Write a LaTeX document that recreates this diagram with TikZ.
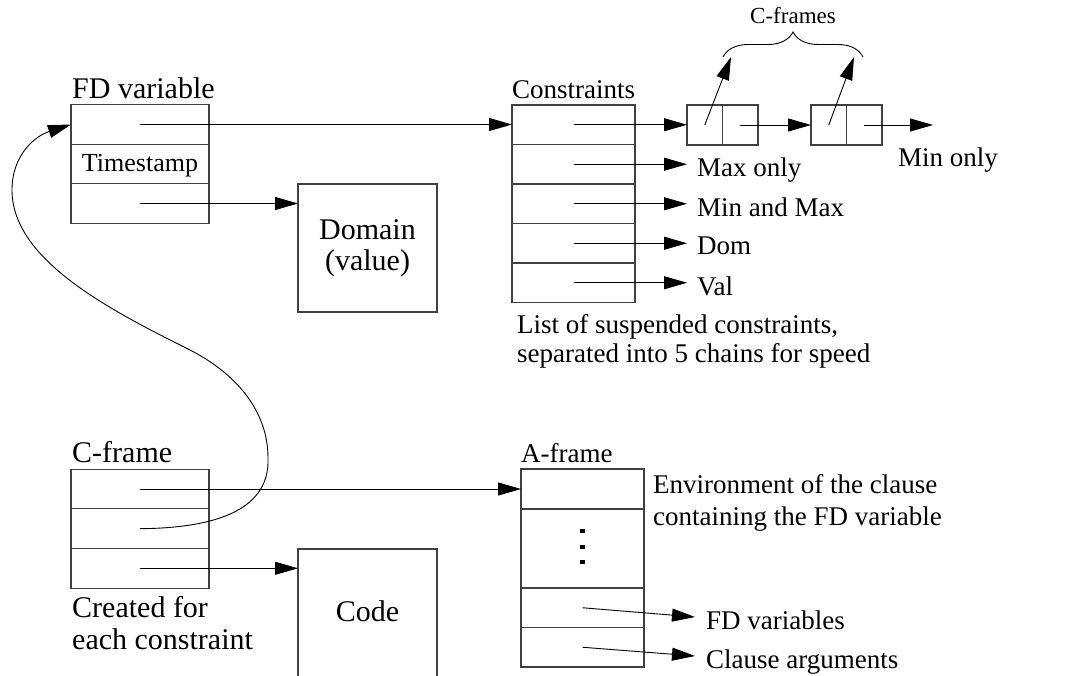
\documentclass[tikz,border=0pt]{standalone}
\usepackage{fontspec}
\setmainfont{Liberation Serif}
\usetikzlibrary{arrows.meta,decorations.pathreplacing}
\newcommand\fbig{\fontsize{30}{32}\selectfont}
\newcommand\fmid{\fontsize{27}{30}\selectfont}
\begin{document}
\begin{tikzpicture}[x=1pt,y=-1pt,
  cell/.style={draw=black!75,line width=1.1pt,inner sep=0pt,outer sep=0pt},
  arr/.style={-{Triangle[length=23pt,width=13pt]},line width=0.9pt},
  big/.style={font=\fbig,inner sep=0pt,anchor=base west},
  mid/.style={font=\fmid,inner sep=0pt,anchor=base west},
  tip/.style={font=\fmid,inner xsep=10pt,inner ysep=0pt,anchor=base west}]
\useasboundingbox (0,0) rectangle (1068,676);
\clip (0,0) rectangle (1068,676);

% FD variable
\node[big] (fdlab) at (72,99) {FD variable};
\node[cell,minimum width=138pt,minimum height=39.5pt] (fd1) at (140,124.5) {};
\node[cell,minimum width=138pt,minimum height=39.5pt,font=\fontsize{26}{28}\selectfont] (fd2) at (140,164) {};
\node[cell,minimum width=138pt,minimum height=39.5pt] (fd3) at (140,203.5) {};
\node[font=\fontsize{26}{28}\selectfont,inner sep=0pt,anchor=base] (ts) at (140,172) {Timestamp};

% Domain
\node[cell,minimum width=139pt,minimum height=128pt,font=\fbig,align=center] (dom) at (367.5,248) {Domain\\[-1pt](value)};

% Constraints
\node[mid] (conlab) at (512,99) {Constraints};
\node[cell,minimum width=123pt,minimum height=39.5pt] (k1) at (573.5,124.75) {};
\node[cell,minimum width=123pt,minimum height=39.5pt] (k2) at (573.5,164.25) {};
\node[cell,minimum width=123pt,minimum height=39.5pt] (k3) at (573.5,203.75) {};
\node[cell,minimum width=123pt,minimum height=39.5pt] (k4) at (573.5,243.25) {};
\node[cell,minimum width=123pt,minimum height=39.5pt] (k5) at (573.5,282.75) {};
\node[mid] (list1) at (517,333) {List of suspended constraints,};
\node[mid] (list2) at (517,362) {separated into 5 chains for speed};

% labels of chains
\node[tip] (mx) at (687,177) {Max only};
\node[tip] (mm) at (687,217) {Min and Max};
\node[tip] (dm) at (687,255) {Dom};
\node[tip] (vl) at (687,295) {Val};

% C-frames chain
\node[cell,minimum width=35.5pt,minimum height=40pt] (b1a) at (704.75,125) {};
\node[cell,minimum width=35.5pt,minimum height=40pt] (b1b) at (740.25,125) {};
\node[cell,minimum width=35.5pt,minimum height=40pt] (b2a) at (828.75,125) {};
\node[cell,minimum width=35.5pt,minimum height=40pt] (b2b) at (864.25,125) {};
\coordinate (endc) at (933,125);
\node[mid] (minonly) at (898,167) {Min only};
\coordinate (u1) at (731,57);
\coordinate (u2) at (854,57);
\coordinate (brl) at (723,57);
\coordinate (brr) at (863,57);
\node[font=\fontsize{23}{25}\selectfont,inner sep=0pt,anchor=base] (cfs) at (793,24) {C-frames};

% C-frame
\node[big] (cflab) at (72,462) {C-frame};
\node[cell,minimum width=138pt,minimum height=39.67pt] (c1) at (140,489) {};
\node[cell,minimum width=138pt,minimum height=39.67pt] (c2) at (140,528.7) {};
\node[cell,minimum width=138pt,minimum height=39.67pt] (c3) at (140,568.3) {};
\node[big] (cr1) at (72,617) {Created for};
\node[big] (cr2) at (72,649) {each constraint};

% Code
\node[cell,minimum width=139pt,minimum height=160pt] (code) at (367.5,629) {};
\node[font=\fbig,inner sep=0pt,anchor=base] (codet) at (367.5,621) {Code};

% A-frame
\node[mid] (aflab) at (521,462) {A-frame};
\node[cell,minimum width=123pt,minimum height=40pt] (a1) at (582.5,489) {};
\node[cell,minimum width=123pt,minimum height=79pt] (a2) at (582.5,548.5) {};
\node[cell,minimum width=123pt,minimum height=39.5pt] (a3) at (582.5,607.75) {};
\node[cell,minimum width=123pt,minimum height=39.5pt] (a4) at (582.5,647.25) {};
\foreach \yy in {531,547,562} \fill (580.2,\yy-2.3) rectangle (584.8,\yy+2.3);
\node[mid] (env1) at (653,493) {Environment of the clause};
\node[mid] (env2) at (653,525) {containing the FD variable};
\node[mid] (fdv) at (706,629) {FD variables};
\node[mid] (cla) at (706,668) {Clause arguments};
\coordinate (t3) at (695,617);
\coordinate (t4) at (695,656);

% connectors
\draw[arr] (fd1.center) -- (fd1.center -| k1.west);
\draw[arr] (fd3.center) -- (fd3.center -| dom.west);
\draw[arr] (k1.center) -- (k1.center -| b1a.west);
\draw[arr] (k2.center) -- (k2.center -| mx.west);
\draw[arr] (k3.center) -- (k3.center -| mm.west);
\draw[arr] (k4.center) -- (k4.center -| dm.west);
\draw[arr] (k5.center) -- (k5.center -| vl.west);
\draw[arr] (b1b.center) -- (b2a.west);
\draw[arr] (b2b.center) -- (endc);
\draw[arr] (b1a.center) -- (u1);
\draw[arr] (b2a.center) -- (u2);
\draw[line width=0.9pt,decorate,decoration={brace,amplitude=25pt}] (brl) -- (brr);
\draw[arr] (c1.center) -- (c1.center -| a1.west);
\draw[arr] (c3.center) -- (c3.center -| code.west);
\draw[arr] (a3.center) -- (t3);
\draw[arr] (a4.center) -- (t4);
\draw[arr] (c2.center) .. controls (220,528) and (270,508) .. (268,458)
  .. controls (268,410) and (235,373) .. (190,350)
  .. controls (110,310) and (12,260) .. (12,190)
  .. controls (12,155) and (35,136) .. (fd1.west);
\end{tikzpicture}
\end{document}
